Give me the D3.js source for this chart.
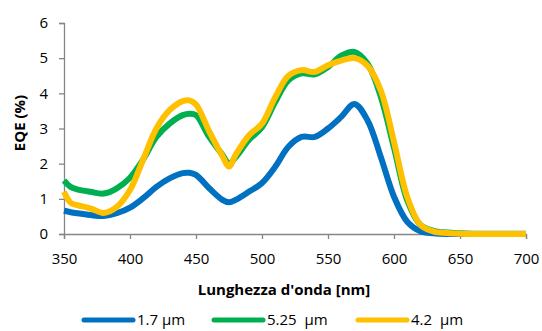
<!DOCTYPE html>
<html>
<head>
<meta charset="utf-8">
<script src="https://cdn.jsdelivr.net/npm/d3@7"></script>
<style>
  body { margin: 0; background: #fff; }
  svg { display: block; font-family: "Open Sans", sans-serif; }
</style>
</head>
<body>
<div id="chart"></div>
<script>
// wavelength (nm)
const wavelengths = [350, 355, 360, 370, 380, 390, 400, 410, 420, 430, 440, 445, 450, 460, 470, 475, 480, 490, 500,
    510, 520, 530, 540, 550, 560, 570, 580, 590, 600, 610, 620, 630, 640, 650, 660, 680, 700];

// EQE (%) per thickness
const eqe_17 = [0.66, 0.62, 0.59, 0.54, 0.51, 0.59, 0.75, 1.02, 1.34, 1.58, 1.73, 1.74, 1.68, 1.3, 0.97, 0.9, 0.97, 1.2, 1.45,
    1.91, 2.48, 2.76, 2.76, 3.0, 3.33, 3.7, 3.23, 2.19, 1.06, 0.35, 0.08, 0.02, 0.0, 0.0, 0.0, 0.0, 0.0];
const eqe_525 = [1.52, 1.34, 1.27, 1.2, 1.15, 1.3, 1.6, 2.12, 2.76, 3.14, 3.38, 3.42, 3.38, 2.76, 2.25, 2.0, 2.18, 2.67, 3.04,
    3.75, 4.37, 4.57, 4.54, 4.75, 5.07, 5.18, 4.84, 3.9, 2.45, 0.96, 0.26, 0.09, 0.04, 0.02, 0.01, 0.01, 0.01];
const eqe_42 = [1.2, 0.89, 0.82, 0.73, 0.6, 0.77, 1.25, 2.12, 3.0, 3.52, 3.78, 3.8, 3.68, 2.92, 2.22, 1.92, 2.25, 2.8, 3.14,
    3.89, 4.5, 4.66, 4.61, 4.8, 4.93, 5.0, 4.78, 4.08, 2.62, 1.06, 0.26, 0.07, 0.03, 0.01, 0.0, 0.0, 0.0];

const series = [
    { name: "1.7 µm", values: eqe_17, color: "#0070C0" },
    { name: "5.25  µm", values: eqe_525, color: "#00B050" },
    { name: "4.2  µm", values: eqe_42, color: "#FFC000" }
];

const x_ticks = [350, 400, 450, 500, 550, 600, 650, 700];
const y_ticks = [0, 1, 2, 3, 4, 5, 6];

const W = 542, H = 331;
const margin = { top: 23, right: 16, bottom: 97, left: 64 };
const width = W - margin.left - margin.right;
const height = H - margin.top - margin.bottom;

const svg = d3.select("#chart").append("svg")
    .attr("width", W)
    .attr("height", H);

const g = svg.append("g")
    .attr("transform", `translate(${margin.left},${margin.top})`);

const x = d3.scaleLinear().domain([350, 700]).range([0, width]);
const y = d3.scaleLinear().domain([0, 6]).range([height, 0]);

const axis_color = "#868686";

// y axis
const y_axis = g.append("g")
    .call(d3.axisLeft(y).tickValues(y_ticks).tickSize(5).tickPadding(11).tickFormat(d3.format("d")));
y_axis.select(".domain").attr("stroke", axis_color).attr("stroke-width", 1.3);
y_axis.selectAll(".tick line").attr("stroke", axis_color).attr("stroke-width", 1.3);
y_axis.selectAll("text")
    .style("font-size", "15px")
    .style("font-family", "Open Sans, sans-serif")
    .attr("fill", "#000");

// x axis
const x_axis = g.append("g")
    .attr("transform", `translate(0,${height})`)
    .call(d3.axisBottom(x).tickValues(x_ticks).tickSize(5).tickPadding(14).tickFormat(d3.format("d")));
x_axis.select(".domain").attr("stroke", axis_color).attr("stroke-width", 1.3);
x_axis.selectAll(".tick line").attr("stroke", axis_color).attr("stroke-width", 1.3);
x_axis.selectAll("text")
    .style("font-size", "15px")
    .style("font-family", "Open Sans, sans-serif")
    .attr("fill", "#000");

// lines
const line = d3.line()
    .x((d, i) => x(wavelengths[i]))
    .y(d => y(d))
    .curve(d3.curveCatmullRom.alpha(0.5));

series.forEach(s => {
    g.append("path")
        .datum(s.values)
        .attr("fill", "none")
        .attr("stroke", s.color)
        .attr("stroke-width", 6)
        .attr("stroke-linejoin", "round")
        .attr("d", line);
});

// axis titles
svg.append("text")
    .attr("x", 284)
    .attr("y", 295)
    .attr("text-anchor", "middle")
    .style("font-size", "15px")
    .style("font-weight", "bold")
    .text("Lunghezza d'onda [nm]");

svg.append("text")
    .attr("transform", `translate(25,123) rotate(-90)`)
    .attr("text-anchor", "middle")
    .style("font-size", "15px")
    .style("font-weight", "bold")
    .text("EQE (%)");

// legend
const legend_x = [82, 212, 356];
const legend_y = 320;
series.forEach((s, i) => {
    svg.append("line")
        .attr("x1", legend_x[i] + 2)
        .attr("x2", legend_x[i] + 51)
        .attr("y1", legend_y)
        .attr("y2", legend_y)
        .attr("stroke", s.color)
        .attr("stroke-width", 5)
        .attr("stroke-linecap", "round");
    svg.append("text")
        .attr("x", legend_x[i] + 55)
        .attr("y", legend_y + 5)
        .style("font-size", "15px")
        .style("white-space", "pre")
        .text(s.name);
});
</script>
</body>
</html>
